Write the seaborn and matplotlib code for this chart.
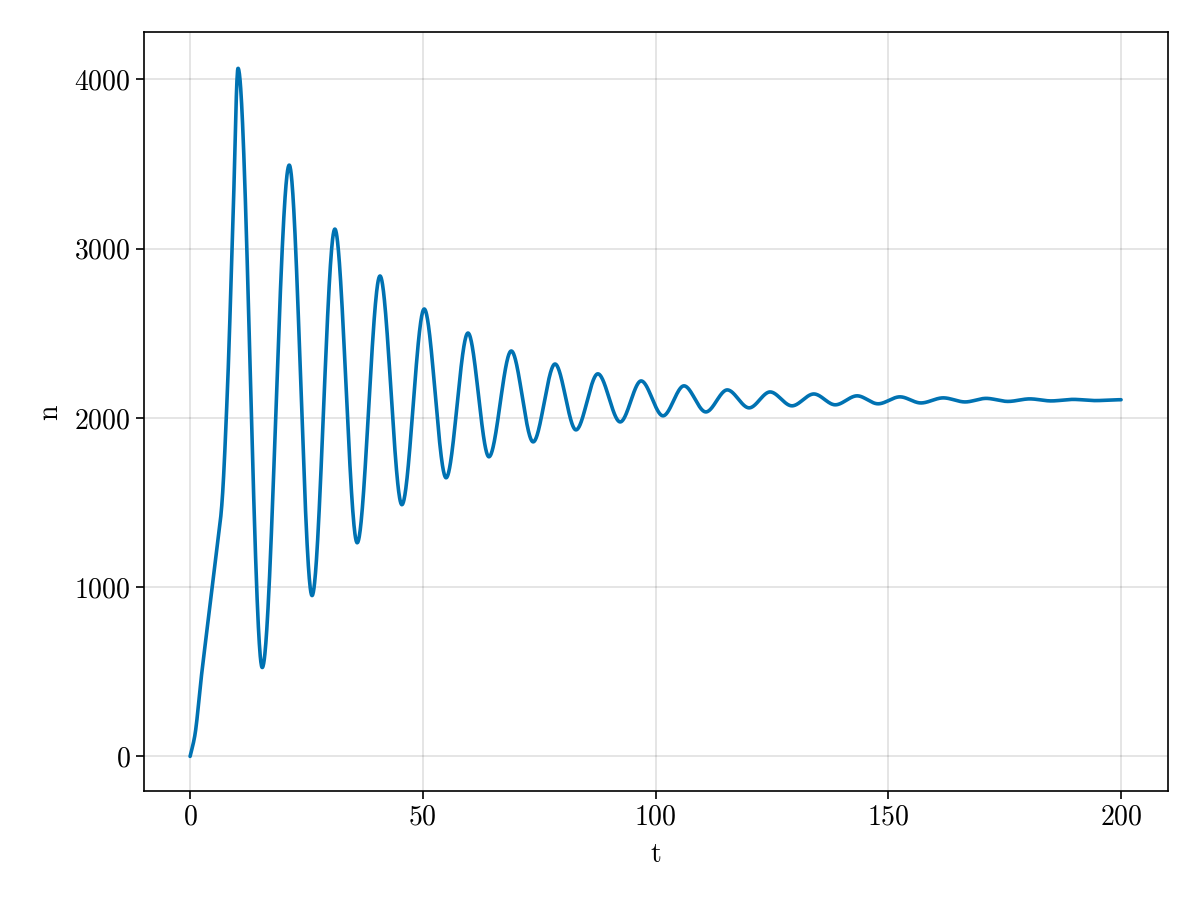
import numpy as np
import matplotlib
matplotlib.use("Agg")
import matplotlib.pyplot as plt
import seaborn as sns
import pandas as pd

# knots (t, n): start, rise, then alternating peaks/troughs
t_knots = [0, 1, 2.5, 4, 5.5, 6.8, 8.0, 9.2, 10.3, 15.5, 21.3, 26.2, 31.1, 35.9, 40.8, 45.5, 50.3, 55.0,
           59.7, 64.2, 69.0, 73.7, 78.4, 82.9, 87.6, 92.4, 96.9, 101.6, 106.1, 110.8,
           115.4, 120.1, 124.6, 129.3, 134.0, 138.6, 143.3, 147.8, 152.5, 157.0, 161.8,
           166.5, 171.0, 175.7, 180.4, 185.0, 189.7, 194.5, 200.0]
n_knots = [0, 120, 490, 830, 1170, 1480, 2150, 3150, 4065, 525, 3493, 950, 3115, 1262, 2838, 1487, 2643, 1646,
           2501, 1770, 2395, 1858, 2318, 1929, 2260, 1976, 2218, 2012, 2189, 2035,
           2165, 2059, 2153, 2071, 2141, 2077, 2130, 2083, 2124, 2088, 2118,
           2094, 2115, 2097, 2112, 2100, 2109, 2102, 2107]

def pchip(x, y, xq):
    x = np.asarray(x, float); y = np.asarray(y, float)
    h = np.diff(x); d = np.diff(y) / h
    m = np.zeros_like(y)
    for k in range(1, len(x) - 1):
        if d[k-1] * d[k] > 0:
            w1 = 2*h[k] + h[k-1]; w2 = h[k] + 2*h[k-1]
            m[k] = (w1 + w2) / (w1/d[k-1] + w2/d[k])
    m[0] = d[0]; m[-1] = 0
    idx = np.clip(np.searchsorted(x, xq) - 1, 0, len(h) - 1)
    s = (xq - x[idx]) / h[idx]
    h00 = 2*s**3 - 3*s**2 + 1; h10 = s**3 - 2*s**2 + s
    h01 = -2*s**3 + 3*s**2; h11 = s**3 - s**2
    return h00*y[idx] + h10*h[idx]*m[idx] + h01*y[idx+1] + h11*h[idx]*m[idx+1]

tq = np.linspace(0, 200, 3000)
df = pd.DataFrame({"t": tq, "n": pchip(t_knots, n_knots, tq)})

sns.set_theme(style="ticks")
plt.rcParams["font.family"] = ["cmr10", "DejaVu Serif"]
plt.rcParams["axes.formatter.use_mathtext"] = True
plt.rcParams["mathtext.fontset"] = "cm"

fig = plt.figure(figsize=(12, 9), dpi=100)
ax = fig.add_axes([0.12, 0.121, 0.853, 0.843])
sns.lineplot(data=df, x="t", y="n", ax=ax, color="#0072B2", linewidth=2.6)
ax.set_xlim(-9.9, 210)
ax.set_ylim(-205, 4277)
ax.set_xticks([0, 50, 100, 150, 200])
ax.set_yticks([0, 1000, 2000, 3000, 4000])
ax.grid(True, color="#000000", alpha=0.12, linewidth=1.2)
for s in ax.spines.values():
    s.set_color("black"); s.set_linewidth(1.2)
ax.tick_params(labelsize=20, length=6, width=1.2, color="black", labelcolor="black")
ax.set_xlabel("t", fontsize=20, labelpad=8, color="black")
ax.set_ylabel("n", fontsize=20, labelpad=8, color="black")
fig.savefig("out.png", dpi=100, facecolor="white")
